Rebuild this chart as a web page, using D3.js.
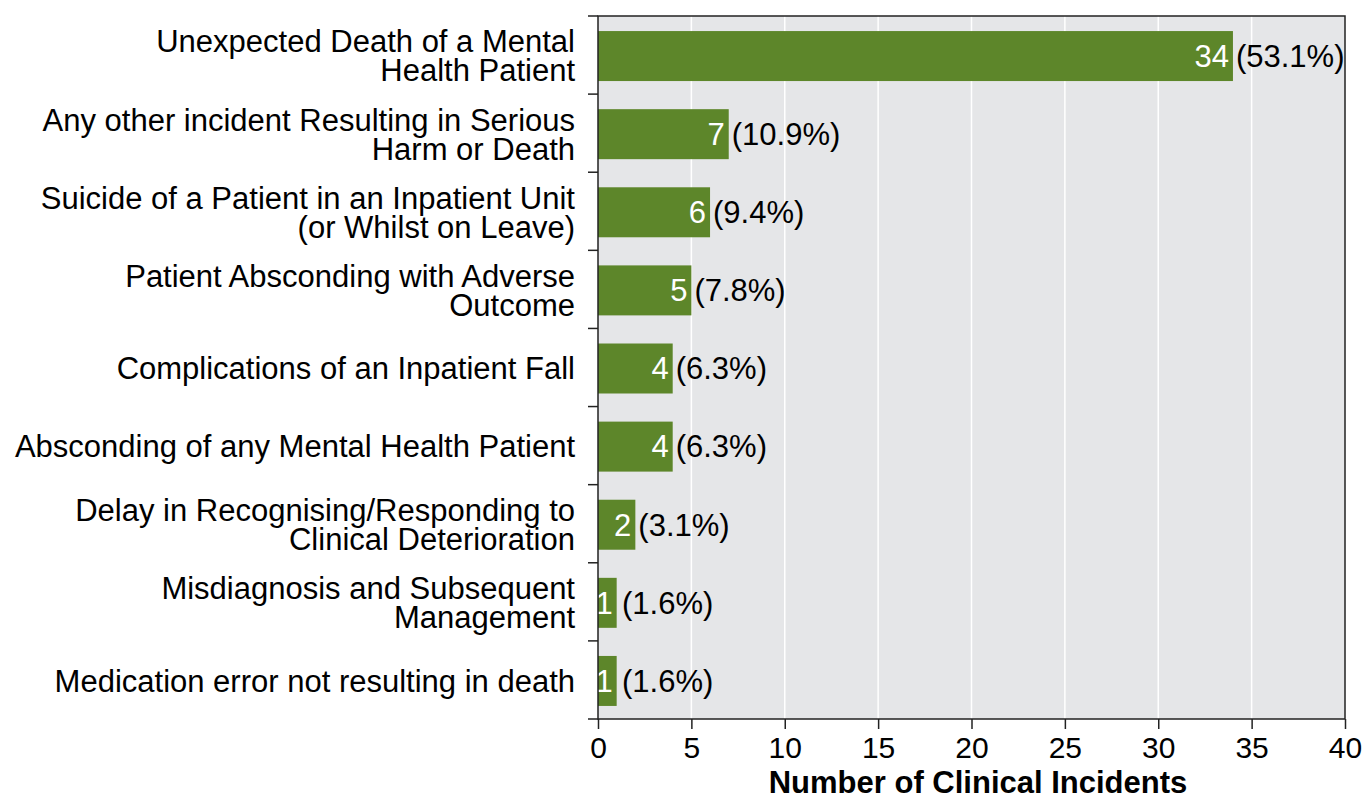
<!DOCTYPE html>
<html>
<head>
<meta charset="utf-8">
<script src="https://cdn.jsdelivr.net/npm/d3@7"></script>
<style>
  body { margin: 0; background: #fff; }
  text { font-family: "Liberation Sans", Arial, sans-serif; }
</style>
</head>
<body>
<div id="chart"></div>
<script>
var categories = [
  ["Unexpected Death of a Mental", "Health Patient"],
  ["Any other incident Resulting in Serious", "Harm or Death"],
  ["Suicide of a Patient in an Inpatient Unit", "(or Whilst on Leave)"],
  ["Patient Absconding with Adverse", "Outcome"],
  ["Complications of an Inpatient Fall"],
  ["Absconding of any Mental Health Patient"],
  ["Delay in Recognising/Responding to", "Clinical Deterioration"],
  ["Misdiagnosis and Subsequent", "Management"],
  ["Medication error not resulting in death"]
];
var counts = [34, 7, 6, 5, 4, 4, 2, 1, 1];
var percents = ["53.1%", "10.9%", "9.4%", "7.8%", "6.3%", "6.3%", "3.1%", "1.6%", "1.6%"];
var xTicks = [0, 5, 10, 15, 20, 25, 30, 35, 40];

var w = 1364, h = 798;
var plotL = 598, plotR = 1345, plotT = 16, plotB = 719;
var fs = 31;

var svg = d3.select("#chart").append("svg")
  .attr("width", w)
  .attr("height", h);

var x = d3.scaleLinear().domain([0, 40]).range([plotL, plotR]);
var y = d3.scaleBand().domain(d3.range(categories.length)).range([plotT, plotB])
  .paddingInner(0.36).paddingOuter(0.18);

svg.append("rect")
  .attr("x", plotL).attr("y", plotT)
  .attr("width", plotR - plotL).attr("height", plotB - plotT)
  .attr("fill", "#e5e6e8");

// grid
svg.selectAll("line.grid")
  .data(xTicks.slice(1, -1))
  .enter().append("line")
  .attr("class", "grid")
  .attr("x1", function(d) { return x(d); })
  .attr("x2", function(d) { return x(d); })
  .attr("y1", plotT).attr("y2", plotB)
  .attr("stroke", "#ffffff").attr("stroke-width", 1.5);

// bars
svg.selectAll("rect.bar")
  .data(counts)
  .enter().append("rect")
  .attr("class", "bar")
  .attr("x", x(0))
  .attr("y", function(d, i) { return y(i) + 1; })
  .attr("width", function(d) { return x(d) - x(0); })
  .attr("height", y.bandwidth())
  .attr("fill", "#5d862a");

// value labels
svg.selectAll("text.val")
  .data(counts)
  .enter().append("text")
  .attr("class", "val")
  .attr("x", function(d) { return x(d) - 4; })
  .attr("y", function(d, i) { return y(i) + 1 + y.bandwidth() / 2; })
  .attr("dy", "0.35em")
  .attr("text-anchor", "end")
  .attr("fill", "#ffffff")
  .attr("font-size", fs)
  .text(function(d) { return d; });

svg.selectAll("text.pct")
  .data(counts)
  .enter().append("text")
  .attr("class", "pct")
  .attr("x", function(d) { return Math.max(x(d), plotL + 21) + 3; })
  .attr("y", function(d, i) { return y(i) + 1 + y.bandwidth() / 2; })
  .attr("dy", "0.35em")
  .attr("fill", "#000")
  .attr("font-size", fs)
  .text(function(d, i) { return "(" + percents[i] + ")"; });

// frame
svg.append("rect")
  .attr("x", plotL).attr("y", plotT)
  .attr("width", plotR - plotL).attr("height", plotB - plotT)
  .attr("fill", "none").attr("stroke", "#222").attr("stroke-width", 1.5);

// y axis ticks at band boundaries
var step = (plotB - plotT) / categories.length;
svg.selectAll("line.ytick")
  .data(d3.range(categories.length + 1))
  .enter().append("line")
  .attr("class", "ytick")
  .attr("x1", plotL - 10).attr("x2", plotL)
  .attr("y1", function(d) { return plotT + d * step; })
  .attr("y2", function(d) { return plotT + d * step; })
  .attr("stroke", "#222").attr("stroke-width", 1.5);

// y labels
var lab = svg.selectAll("text.ylab")
  .data(categories)
  .enter().append("text")
  .attr("class", "ylab")
  .attr("text-anchor", "end")
  .attr("font-size", fs)
  .attr("fill", "#000")
  .attr("transform", function(d, i) { return "translate(575," + (y(i) + 1 + y.bandwidth() / 2) + ")"; });

lab.selectAll("tspan")
  .data(function(d) { return d; })
  .enter().append("tspan")
  .attr("x", 0)
  .attr("y", function(d, j, nodes) {
    var n = nodes.length;
    return (j - (n - 1) / 2) * 29;
  })
  .attr("dy", "0.35em")
  .text(function(d) { return d; });

// x axis
var xAxis = d3.axisBottom(x).tickValues(xTicks).tickSize(10).tickPadding(8);
var gx = svg.append("g")
  .attr("transform", "translate(0," + plotB + ")")
  .call(xAxis);
gx.select(".domain").remove();
gx.selectAll("line").attr("stroke", "#222").attr("stroke-width", 1.5);
gx.selectAll("text")
  .attr("font-size", 30)
  .attr("font-family", "Liberation Sans, Arial, sans-serif")
  .attr("fill", "#000");

svg.append("text")
  .attr("x", 978)
  .attr("y", 793)
  .attr("text-anchor", "middle")
  .attr("font-size", fs)
  .attr("font-weight", "bold")
  .attr("fill", "#000")
  .text("Number of Clinical Incidents");
</script>
</body>
</html>
